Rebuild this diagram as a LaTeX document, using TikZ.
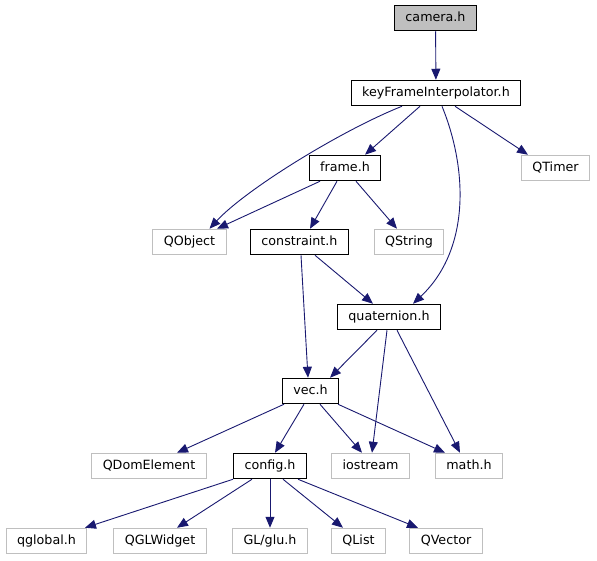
\documentclass[tikz,border=0pt]{standalone}
\usepackage{fontspec}
\setmainfont{DejaVu Sans}
\usetikzlibrary{arrows.meta, calc}
\definecolor{edgeblue}{RGB}{25, 25, 112}
\definecolor{extgray}{RGB}{191, 191, 191}
\definecolor{rootfill}{RGB}{191, 191, 191}

\begin{document}
\begin{tikzpicture}[x=1pt, y=-1pt,
    hdr/.style={draw=black, line width=1pt, fill=white, minimum height=25.5pt, inner xsep=11pt, inner ysep=0pt, text height=9.5pt, text depth=2.5pt, font=\fontsize{12.7}{14}\selectfont},
    ext/.style={hdr, draw=extgray},
    root/.style={hdr, fill=rootfill},
    dep/.style={draw=edgeblue, line width=0.9pt, -{Triangle[length=11pt, width=9pt]}}]
    \useasboundingbox (0,0) rectangle (597,560);

    % Top
    \node[root] (camera) at (435.5,18) {camera.h};
    \node[hdr] (kfi) at (436,93) {keyFrameInterpolator.h};

    % Row 3 and 4
    \node[hdr] (frame) at (345,168) {frame.h};
    \node[ext] (qtimer) at (555.5,168) {QTimer};
    \node[ext] (qobject) at (189.5,242) {QObject};
    \node[hdr] (constraint) at (299.5,242) {constraint.h};
    \node[ext] (qstring) at (409,242) {QString};

    % Middle
    \node[hdr] (quaternion) at (389,317) {quaternion.h};
    \node[hdr] (vec) at (310.5,391) {vec.h};

    % Row 7
    \node[ext] (qdom) at (149,466) {QDomElement};
    \node[hdr] (config) at (270,466) {config.h};
    \node[ext] (iostream) at (370.5,466) {iostream};
    \node[ext] (mathh) at (469,466) {math.h};

    % Bottom
    \node[ext] (qglobal) at (46.5,541) {qglobal.h};
    \node[ext] (qglwidget) at (160,541) {QGLWidget};
    \node[ext] (glu) at (270,541) {GL/glu.h};
    \node[ext] (qlist) at (358.5,541) {QList};
    \node[ext] (qvector) at (446,541) {QVector};

    % Includes
    \draw[dep] (camera) -- (kfi);
    \draw[dep] ([xshift=-34pt]kfi.south) .. controls (340,131) and (245,190) .. ([xshift=20pt]qobject.north);
    \draw[dep] ([xshift=-16pt]kfi.south) -- ([xshift=20pt]frame.north);
    \draw[dep] ([xshift=6pt]kfi.south) .. controls (468,170) and (470,250) .. ([xshift=24pt]quaternion.north);
    \draw[dep] ([xshift=19pt]kfi.south) -- ([xshift=-27.5pt]qtimer.north);

    \draw[dep] ([xshift=-25pt]frame.south) -- ([xshift=27.5pt]qobject.north);
    \draw[dep] ([xshift=-8pt]frame.south) -- ([xshift=10.5pt]constraint.north);
    \draw[dep] ([xshift=11pt]frame.south) -- ([xshift=-12pt]qstring.north);

    \draw[dep] ([xshift=15.5pt]constraint.south) -- ([xshift=-16pt]quaternion.north);
    \draw[dep] ([xshift=1.5pt]constraint.south) -- ([xshift=-2.5pt]vec.north);

    \draw[dep] ([xshift=-12pt]quaternion.south) -- ([xshift=19.5pt]vec.north);
    \draw[dep] ([xshift=-2pt]quaternion.south) -- ([xshift=1.5pt]iostream.north);
    \draw[dep] ([xshift=8pt]quaternion.south) -- ([xshift=-9pt]mathh.north);

    \draw[dep] ([xshift=-26.5pt]vec.south) -- ([xshift=28pt]qdom.north);
    \draw[dep] ([xshift=-6.5pt]vec.south) -- ([xshift=5pt]config.north);
    \draw[dep] ([xshift=9.5pt]vec.south) -- ([xshift=-8.5pt]iostream.north);
    \draw[dep] ([xshift=27.5pt]vec.south) -- ([xshift=-24pt]mathh.north);

    \draw[dep] ([xshift=-37pt]config.south) -- ([xshift=38.5pt]qglobal.north);
    \draw[dep] ([xshift=-18pt]config.south) -- ([xshift=17pt]qglwidget.north);
    \draw[dep] (config) -- (glu);
    \draw[dep] ([xshift=13pt]config.south) -- ([xshift=-15.5pt]qlist.north);
    \draw[dep] ([xshift=28pt]config.south) -- ([xshift=-28pt]qvector.north);
\end{tikzpicture}
\end{document}
